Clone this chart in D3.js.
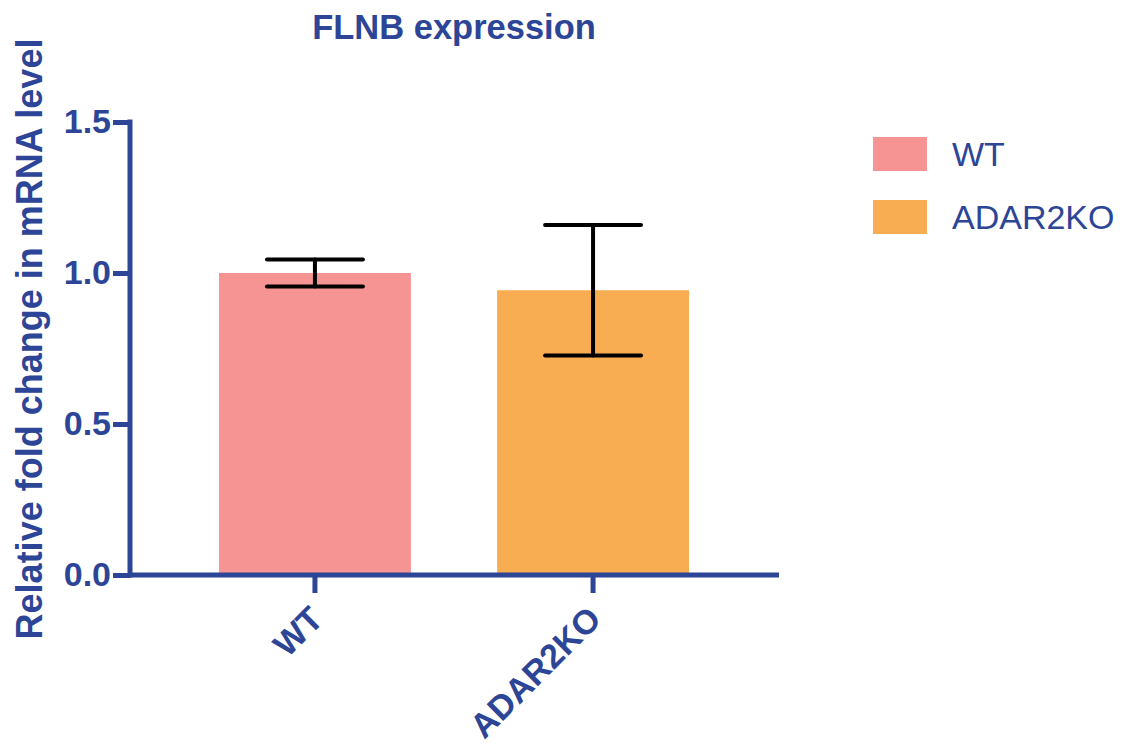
<!DOCTYPE html>
<html>
<head>
<meta charset="utf-8">
<script src="https://cdn.jsdelivr.net/npm/d3@7"></script>
<style>
  body { margin: 0; background: #fff; }
  text { font-family: "Liberation Sans", Arial, sans-serif; }
</style>
</head>
<body>
<script>
var W = 1124, H = 748;

// data
var groups = ["WT", "ADAR2KO"];
var means = [1.0, 0.943];
var errs = [0.045, 0.216];
var colors = ["#f69493", "#f9ad52"];
var yTicks = [0, 0.5, 1.0, 1.5];

var blue = "#2d4597";

var svg = d3.select("body").append("svg")
    .attr("width", W)
    .attr("height", H);

var y = d3.scaleLinear().domain([0, 1.5]).range([575, 122]);
var x = d3.scaleBand().domain(groups).range([130, 778])
    .paddingInner(0.31).paddingOuter(0.32);

// title
svg.append("text")
    .attr("x", 454).attr("y", 39)
    .attr("text-anchor", "middle")
    .attr("font-size", 34.5).attr("font-weight", "bold")
    .attr("fill", blue)
    .text("FLNB expression");

// y label
svg.append("text")
    .attr("transform", "translate(42,339) rotate(-90)")
    .attr("text-anchor", "middle")
    .attr("font-size", 36).attr("font-weight", "bold")
    .attr("fill", blue)
    .text("Relative fold change in mRNA level");

// bars
svg.selectAll("rect.bar")
    .data(groups)
    .enter()
    .append("rect")
    .attr("class", "bar")
    .attr("x", function(d) { return x(d); })
    .attr("y", function(d, i) { return y(means[i]); })
    .attr("width", x.bandwidth())
    .attr("height", function(d, i) { return y(0) - y(means[i]); })
    .attr("fill", function(d, i) { return colors[i]; });

// error bars
var capw = x.bandwidth() / 2;
var eg = svg.selectAll("g.err")
    .data(groups)
    .enter()
    .append("g")
    .attr("class", "err")
    .attr("stroke", "#000")
    .attr("stroke-width", 4)
    .attr("stroke-linecap", "round");
eg.append("line")
    .attr("x1", function(d) { return x(d) + x.bandwidth() / 2; })
    .attr("x2", function(d) { return x(d) + x.bandwidth() / 2; })
    .attr("y1", function(d, i) { return y(means[i] + errs[i]); })
    .attr("y2", function(d, i) { return y(means[i] - errs[i]); });
eg.append("line")
    .attr("x1", function(d) { return x(d) + x.bandwidth() / 2 - capw / 2; })
    .attr("x2", function(d) { return x(d) + x.bandwidth() / 2 + capw / 2; })
    .attr("y1", function(d, i) { return y(means[i] + errs[i]); })
    .attr("y2", function(d, i) { return y(means[i] + errs[i]); });
eg.append("line")
    .attr("x1", function(d) { return x(d) + x.bandwidth() / 2 - capw / 2; })
    .attr("x2", function(d) { return x(d) + x.bandwidth() / 2 + capw / 2; })
    .attr("y1", function(d, i) { return y(means[i] - errs[i]); })
    .attr("y2", function(d, i) { return y(means[i] - errs[i]); });

// y axis
var yAxis = svg.append("g")
    .attr("transform", "translate(130,0)")
    .call(d3.axisLeft(y).tickValues(yTicks).tickFormat(d3.format(".1f"))
        .tickSize(17).tickPadding(2));
yAxis.select(".domain").remove();
yAxis.append("line")
    .attr("x1", 0).attr("x2", 0)
    .attr("y1", y(1.5) - 2.5).attr("y2", y(0) + 2.5)
    .attr("stroke", blue).attr("stroke-width", 5);
yAxis.selectAll(".tick line").attr("stroke", blue).attr("stroke-width", 5);
yAxis.selectAll(".tick text")
    .attr("fill", blue)
    .attr("font-size", 34).attr("font-weight", "bold")
    .attr("font-family", "Liberation Sans, Arial, sans-serif");

// x axis
var xAxis = svg.append("g")
    .attr("transform", "translate(0," + y(0) + ")")
    .call(d3.axisBottom(x).tickSize(18).tickPadding(0));
xAxis.select(".domain").remove();
xAxis.append("line")
    .attr("x1", 128).attr("x2", 779)
    .attr("y1", 0).attr("y2", 0)
    .attr("stroke", blue).attr("stroke-width", 5);
xAxis.selectAll(".tick line").attr("stroke", blue).attr("stroke-width", 5);
xAxis.selectAll(".tick text")
    .attr("fill", blue)
    .attr("font-size", 34).attr("font-weight", "bold")
    .attr("font-family", "Liberation Sans, Arial, sans-serif")
    .attr("text-anchor", "end")
    .attr("y", 0).attr("dy", 0)
    .attr("transform", "translate(10,46) rotate(-45)");

// legend
var leg = svg.append("g").attr("transform", "translate(873,137)");
var li = leg.selectAll("g")
    .data(groups)
    .enter()
    .append("g")
    .attr("transform", function(d, i) { return "translate(0," + (i * 63) + ")"; });
li.append("rect")
    .attr("width", 54).attr("height", 34)
    .attr("fill", function(d, i) { return colors[i]; });
li.append("text")
    .attr("x", 79).attr("y", 29)
    .attr("font-size", 34)
    .attr("fill", blue)
    .text(function(d) { return d; });
</script>
</body>
</html>
